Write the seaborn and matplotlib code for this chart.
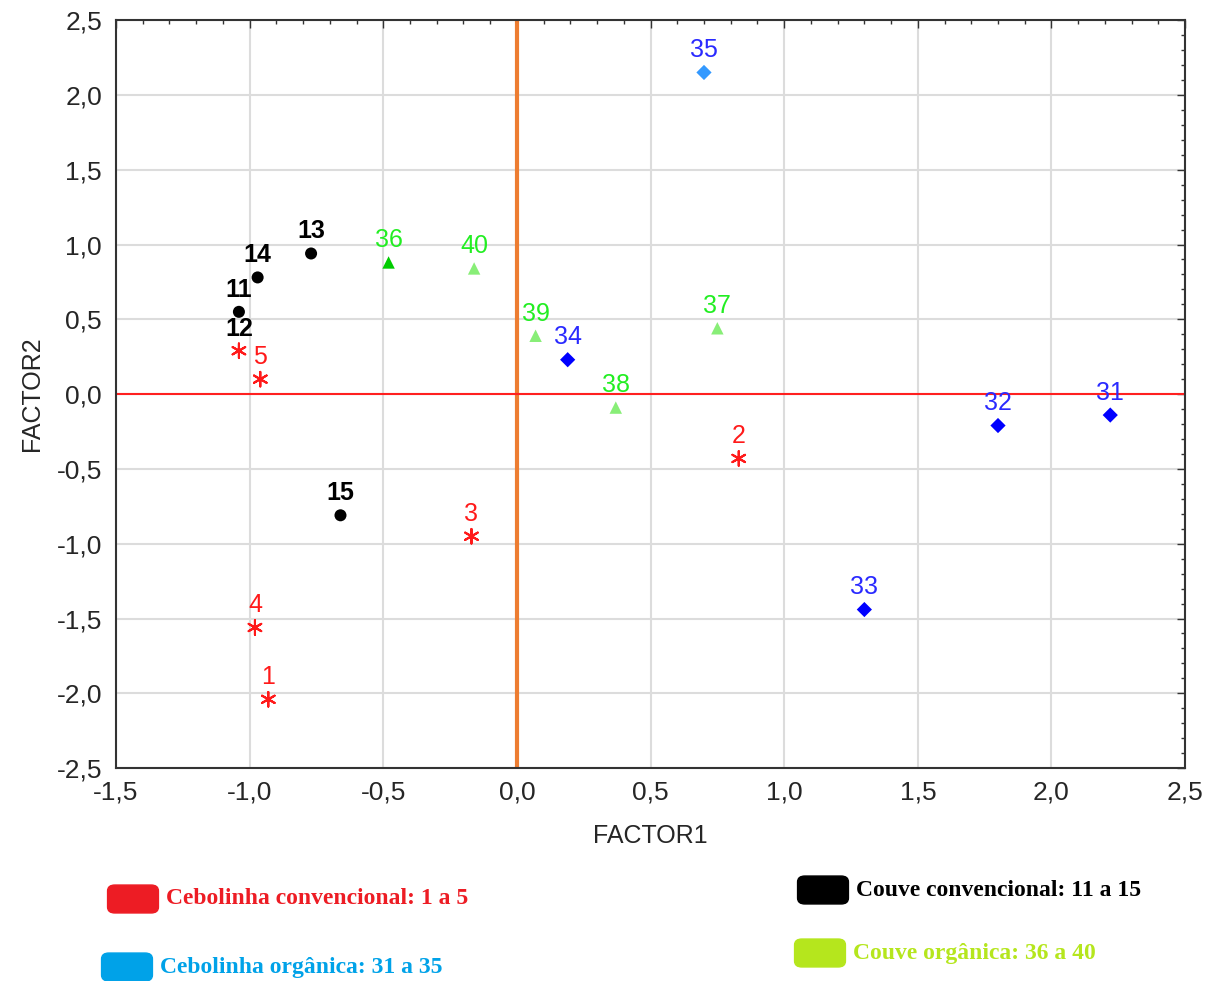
import pandas as pd
import seaborn as sns
import matplotlib.pyplot as plt
from matplotlib.patches import FancyBboxPatch
from matplotlib.ticker import MultipleLocator, FuncFormatter

# Cebolinha convencional (asterisks); the "12" label sits on an asterisk in the original
ceb_conv_lab = ['1', '2', '3', '4', '5', '12']
ceb_conv_x = [-0.93, 0.83, -0.17, -0.98, -0.96, -1.04]
ceb_conv_y = [-2.04, -0.43, -0.95, -1.56, 0.10, 0.29]

# Couve convencional (dots)
couve_conv_lab = ['11', '13', '14', '15']
couve_conv_x = [-1.04, -0.77, -0.97, -0.66]
couve_conv_y = [0.55, 0.94, 0.78, -0.81]

# Cebolinha orgânica (diamonds)
ceb_org_lab = ['31', '32', '33', '34', '35']
ceb_org_x = [2.22, 1.80, 1.30, 0.19, 0.70]
ceb_org_y = [-0.14, -0.21, -1.44, 0.23, 2.15]

# Couve orgânica (triangles)
couve_org_lab = ['36', '37', '38', '39', '40']
couve_org_x = [-0.48, 0.75, 0.37, 0.07, -0.16]
couve_org_y = [0.88, 0.44, -0.09, 0.39, 0.84]

legend_items = ['Cebolinha convencional: 1 a 5', 'Cebolinha orgânica: 31 a 35',
                'Couve convencional: 11 a 15', 'Couve orgânica: 36 a 40']

sns.set_style("white")
plt.rcParams['font.family'] = ['Liberation Sans', 'DejaVu Sans']

fig = plt.figure(figsize=(12.13, 9.81), dpi=100)
ax = fig.add_axes([0.0956, 0.217, 0.8814, 0.7625])

# reference lines first so points sit on top
ax.axvline(0, color='#ed7d31', lw=3, zorder=1)
ax.axhline(0, color='#ff2020', lw=1.5, zorder=1)

groups = [
    (ceb_conv_x, ceb_conv_y, ceb_conv_lab, (6, 2, 0), ['#ff1a1a'] * 6, 110),
    (couve_conv_x, couve_conv_y, couve_conv_lab, 'o', ['black'] * 4, 75),
    (ceb_org_x, ceb_org_y, ceb_org_lab, 'D', ['#0000ff'] * 4 + ['#3399ff'], 60),
    (couve_org_x, couve_org_y, couve_org_lab, '^', ['#00cc00', '#88ee77', '#88ee77', '#88ee77', '#88ee77'], 80),
]

label_colors = {'ceb_conv': '#ff1a1a', 'couve_conv': 'black', 'ceb_org': '#2a2aff', 'couve_org': '#22ee22'}
keys = ['ceb_conv', 'couve_conv', 'ceb_org', 'couve_org']

for key, (xs, ys, labs, mk, cols, size) in zip(keys, groups):
    df = pd.DataFrame({'x': xs, 'y': ys, 'lab': labs})
    sns.scatterplot(data=df, x='x', y='y', hue='lab', palette=cols, marker=mk,
                    s=size, linewidth=1.5 if mk == (6, 2, 0) else 0,
                    legend=False, ax=ax, zorder=3)
    for _, r in df.iterrows():
        col = label_colors[key]
        weight = 'bold' if key == 'couve_conv' else 'normal'
        if r['lab'] == '12':
            col, weight = 'black', 'bold'
        ax.annotate(r['lab'], (r['x'], r['y']), xytext=(0, 16), textcoords='offset points',
                    ha='center', va='center', fontsize=18, color=col, fontweight=weight, zorder=4)

ax.set_xlim(-1.5, 2.5)
ax.set_ylim(-2.5, 2.5)
ax.xaxis.set_major_locator(MultipleLocator(0.5))
ax.yaxis.set_major_locator(MultipleLocator(0.5))
ax.xaxis.set_minor_locator(MultipleLocator(0.1))
ax.yaxis.set_minor_locator(MultipleLocator(0.1))
comma = FuncFormatter(lambda v, p: f'{v:.1f}'.replace('.', ','))
ax.xaxis.set_major_formatter(comma)
ax.yaxis.set_major_formatter(comma)
ax.tick_params(which='both', direction='in', top=True, right=True, color='#333333', labelsize=19)
ax.tick_params(which='major', length=6, width=1)
ax.tick_params(which='minor', length=3, width=1)
ax.tick_params(axis='x', pad=9)
ax.tick_params(axis='y', pad=10)
ax.grid(True, which='major', color='#dcdcdc', lw=1.5, zorder=0)
ax.set_axisbelow(True)
for sp in ax.spines.values():
    sp.set_color('#333333')
    sp.set_linewidth(1.5)

ax.set_xlabel('FACTOR1', fontsize=18, labelpad=14)
ax.set_ylabel('FACTOR2', fontsize=18, labelpad=9)

# legend drawn as coloured blocks with serif text, as in the source figure
leg_colors = ['#ed1c24', '#00a2e8', 'black', '#b5e61d']
leg_pos = [(110, 899), (104, 967), (800, 890), (797, 953)]
W, H = fig.get_size_inches() * fig.dpi
for text, col, (px, py) in zip(legend_items, leg_colors, leg_pos):
    fig.patches.append(FancyBboxPatch((px / W, 1 - (py + 12) / H), 46 / W, 24 / H,
                                      boxstyle='round,pad=0.002,rounding_size=0.006',
                                      transform=fig.transFigure, facecolor=col, edgecolor=col))
    fig.text((px + 56) / W, 1 - py / H, text, fontsize=17, fontweight='bold',
             family=['Liberation Serif', 'DejaVu Serif'], color=col, va='center', ha='left')

fig.savefig('out.png', dpi=100)
